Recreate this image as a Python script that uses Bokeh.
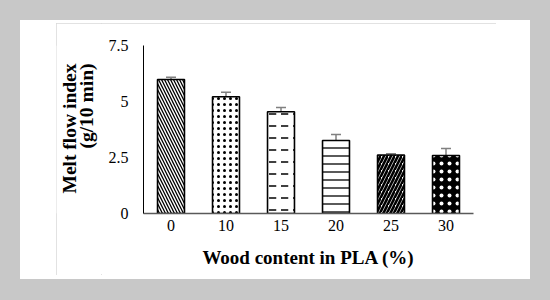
from bokeh.plotting import figure
from bokeh.models import (ColumnDataSource, Whisker, FixedTicker, Spacer,
                          FactorRange, Range1d, TeeHead)
from bokeh.core.properties import value
from bokeh.layouts import column, row
from bokeh.embed import file_html
from bokeh.resources import INLINE

# ---- data ----
wood_content = ["0", "10", "15", "20", "25", "30"]
melt_flow_index = [5.98, 5.21, 4.54, 3.26, 2.61, 2.59]
std_error = [0.10, 0.20, 0.19, 0.27, 0.06, 0.31]
y_ticks = [0, 2.5, 5, 7.5]
y_tick_labels = {0: "0", 2.5: "2.5", 5: "5", 7.5: "7.5"}
y_title_lines = ["Melt flow index", "(g/10 min)"]
x_title = "Wood content in PLA (%)"

# ---- styles ----
fill_colors = ["white", "white", "white", "white", "white", "black"]
hatch_patterns = ["left_diagonal_line", "dot", "horizontal_dash",
                  "horizontal_line", "right_diagonal_line", "dot"]
hatch_colors = ["black", "black", "black", "black", "black", "white"]
hatch_scales = [6, 6, 12, 8, 7, 8]
hatch_weights = [1.3, 0.8, 1.5, 1.3, 2.6, 0.9]

upper = [v + e for v, e in zip(melt_flow_index, std_error)]
lower = [v - e for v, e in zip(melt_flow_index, std_error)]

src = ColumnDataSource(dict(x=wood_content, top=melt_flow_index, upper=upper,
                            lower=lower, fill=fill_colors, hp=hatch_patterns,
                            hc=hatch_colors, hs=hatch_scales, hw=hatch_weights))

p = figure(x_range=FactorRange(*wood_content, range_padding=0),
           y_range=Range1d(0, 7.5),
           width=395, height=252, output_backend="svg", toolbar_location=None,
           min_border_left=42, min_border_right=23, min_border_top=22,
           min_border_bottom=62, background_fill_color="white",
           border_fill_color="white", outline_line_color=None)

p.vbar(x="x", top="top", width=0.49, source=src, fill_color="fill",
       line_color="black", line_width=1.6, hatch_pattern="hp",
       hatch_color="hc", hatch_scale="hs", hatch_weight="hw")

err_color = "#808080"
w = Whisker(base="x", upper="upper", lower="lower", source=src,
            line_color=err_color, line_width=1.5,
            upper_head=TeeHead(size=10, line_color=err_color, line_width=1.5),
            lower_head=TeeHead(size=10, line_color=err_color, line_width=1.5))
p.add_layout(w)

p.grid.visible = False

p.yaxis.ticker = FixedTicker(ticks=y_ticks)
p.yaxis.major_label_overrides = y_tick_labels
p.yaxis.major_tick_line_color = None
p.yaxis.minor_tick_line_color = None
p.yaxis.major_tick_out = 0
p.yaxis.major_label_standoff = 15
p.yaxis.axis_line_color = "black"
p.yaxis.axis_line_width = 1
p.yaxis.major_label_text_font = "Liberation Serif"
p.yaxis.major_label_text_font_size = "16px"
p.yaxis.major_label_text_color = "black"

p.xaxis.major_tick_line_color = None
p.xaxis.minor_tick_line_color = None
p.xaxis.major_tick_out = 0
p.xaxis.major_label_standoff = 6
p.xaxis.axis_line_color = "#595959"
p.xaxis.axis_line_width = 1.6
p.xaxis.major_label_text_font = "Liberation Serif"
p.xaxis.major_label_text_font_size = "16px"
p.xaxis.major_label_text_color = "black"
p.xaxis.axis_label = x_title
p.xaxis.axis_label_text_font = "Liberation Serif"
p.xaxis.axis_label_text_font_style = "bold"
p.xaxis.axis_label_text_font_size = "19px"
p.xaxis.axis_label_text_color = "black"
p.xaxis.axis_label_standoff = 13

# narrow figure holding the two-line y-axis title (pixel-mapped ranges)
lab = figure(width=45, height=252, x_range=Range1d(0, 45), y_range=Range1d(0, 252),
             output_backend="svg", toolbar_location=None,
             x_axis_location=None, y_axis_location=None,
             min_border_left=0, min_border_right=0, min_border_top=0,
             min_border_bottom=0, outline_line_color=None,
             background_fill_color="white", border_fill_color="white")
lab.grid.visible = False
lab.text(x=[13, 30], y=[225, 225], text=y_title_lines, angle=1.5707963,
         text_align="right", text_baseline="middle",
         text_font=value("Liberation Serif"), text_font_style="bold",
         text_font_size="19.5px", text_color="black")

chart_area = row(lab, p,
                 styles={"outline": "1px solid #d9d9d9", "outline-offset": "-1px"})

white_panel = column(
    Spacer(width=510, height=3),
    row(Spacer(width=36, height=252), chart_area, Spacer(width=34, height=252)),
    Spacer(width=510, height=4),
    styles={"background-color": "white"})

page = column(
    Spacer(width=550, height=20),
    row(Spacer(width=20, height=259), white_panel, Spacer(width=20, height=259)),
    Spacer(width=550, height=21),
    styles={"background-color": "#c8c8c8"})

open("out.html", "w").write(file_html(page, INLINE))
